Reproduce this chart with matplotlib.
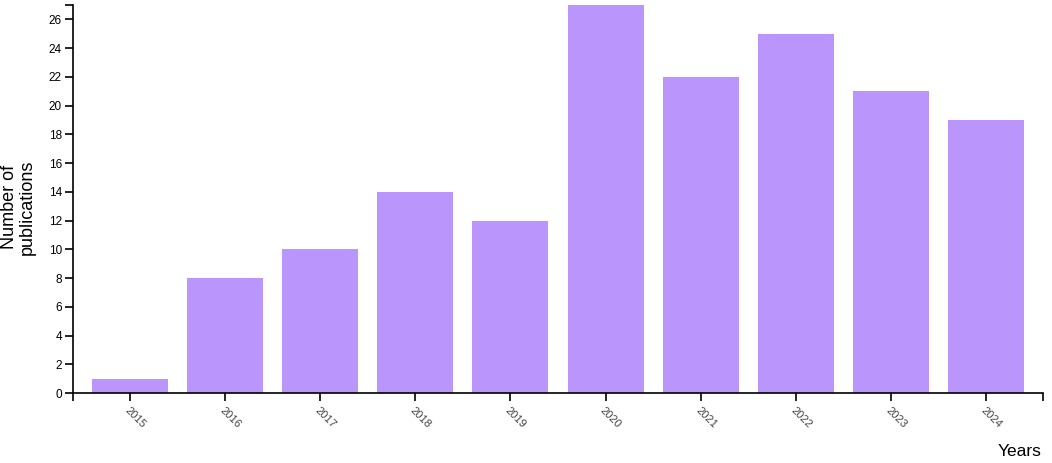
import matplotlib.pyplot as plt
import numpy as np

years = ['2015', '2016', '2017', '2018', '2019', '2020', '2021', '2022', '2023', '2024']
counts = [1, 8, 10, 14, 12, 27, 22, 25, 21, 19]

BAR_COLOR = '#B995FC'

plt.rcParams['font.family'] = ['Liberation Sans', 'DejaVu Sans']

fig = plt.figure(figsize=(10.52, 4.63), dpi=100)
ax = fig.add_axes([73 / 1052, 70 / 463, 970 / 1052, 388 / 463])

x = np.arange(len(years))
ax.bar(x, counts, width=0.8, color=BAR_COLOR)

ax.set_xlim(-0.6, len(years) - 0.4)
ax.set_ylim(0, 27)

ax.set_xticks(x)
ax.set_xticklabels(years, rotation=-45, ha='left', va='top',
                   rotation_mode='anchor', fontsize=8, color='#444444')
ax.set_yticks(np.arange(0, 27, 2))
ax.tick_params(axis='y', labelsize=8.5, length=6, width=1.2, pad=2)
ax.tick_params(axis='x', length=6, width=1.2, pad=3)

# d3-style outer ticks at the ends of the domain lines
ax.set_xticks([-0.6, len(years) - 0.4], minor=True)
ax.set_yticks([27], minor=True)
ax.tick_params(which='minor', length=6, width=1.2)

for side in ['top', 'right']:
    ax.spines[side].set_visible(False)
for side in ['left', 'bottom']:
    ax.spines[side].set_linewidth(1.2)

fig.text(18 / 1052, 1 - 207 / 463, 'Number of\npublications', rotation=90,
         ha='center', va='center', fontsize=13, linespacing=1.05)
fig.text(1041 / 1052, 1 - 452 / 463, 'Years', ha='right', va='center',
         fontsize=12.5)

fig.savefig('out.png', dpi=100)
